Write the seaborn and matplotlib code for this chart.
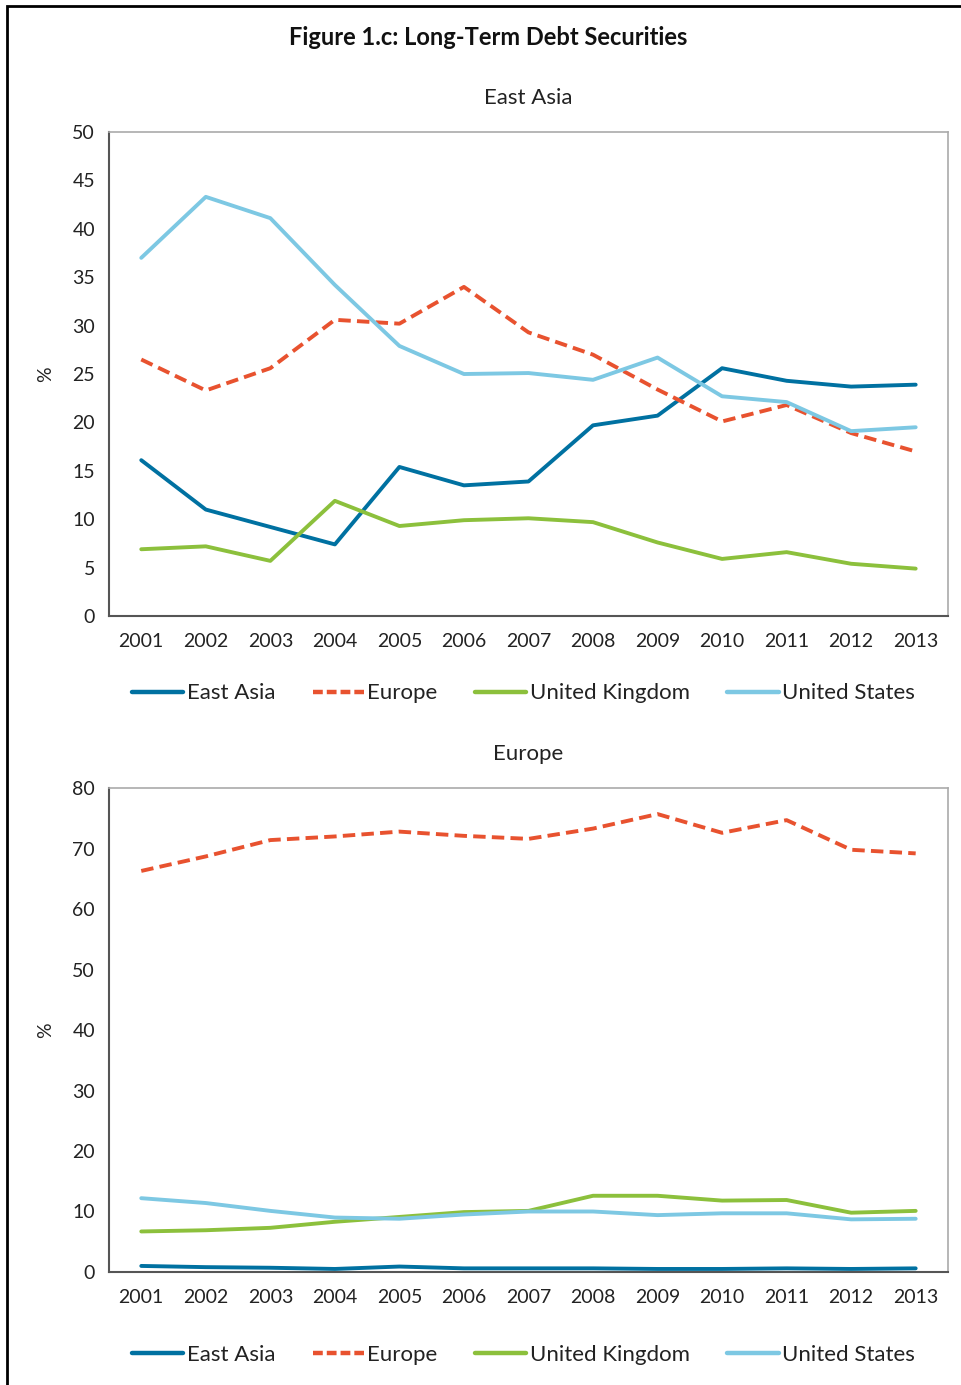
import pandas as pd
import matplotlib.pyplot as plt
import seaborn as sns
from matplotlib.lines import Line2D
from matplotlib.patches import Rectangle

years = list(range(2001, 2014))
regions = ['East Asia', 'Europe', 'United Kingdom', 'United States']

# panel 1: East Asia holdings (%)
ea_east_asia = [16.1, 11.0, 9.2, 7.4, 15.4, 13.5, 13.9, 19.7, 20.7, 25.6, 24.3, 23.7, 23.9]
ea_europe = [26.5, 23.3, 25.6, 30.6, 30.2, 34.0, 29.3, 27.0, 23.4, 20.1, 21.8, 18.9, 17.0]
ea_uk = [6.9, 7.2, 5.7, 11.9, 9.3, 9.9, 10.1, 9.7, 7.6, 5.9, 6.6, 5.4, 4.9]
ea_us = [37.0, 43.3, 41.1, 34.2, 27.9, 25.0, 25.1, 24.4, 26.7, 22.7, 22.1, 19.1, 19.5]

# panel 2: Europe holdings (%)
eu_east_asia = [1.0, 0.8, 0.7, 0.5, 0.9, 0.6, 0.6, 0.6, 0.5, 0.5, 0.6, 0.5, 0.6]
eu_europe = [66.3, 68.7, 71.4, 72.0, 72.8, 72.1, 71.6, 73.3, 75.7, 72.6, 74.7, 69.8, 69.2]
eu_uk = [6.7, 6.9, 7.3, 8.3, 9.1, 9.9, 10.1, 12.6, 12.6, 11.8, 11.9, 9.8, 10.1]
eu_us = [12.2, 11.4, 10.1, 9.0, 8.8, 9.5, 10.0, 10.0, 9.4, 9.7, 9.7, 8.7, 8.8]

colors = {'East Asia': '#0071A1', 'Europe': '#E8522F',
          'United Kingdom': '#8CC03C', 'United States': '#7DC8E3'}
dashes = {'East Asia': '', 'Europe': (3.2, 1.6),
          'United Kingdom': '', 'United States': ''}


def to_long(series):
    rows = []
    for region, vals in zip(regions, series):
        for y, v in zip(years, vals):
            rows.append({'year': y, 'value': v, 'region': region})
    return pd.DataFrame(rows)


def draw_panel(ax, df, title, ymax, ystep, legend_y):
    sns.lineplot(data=df, x='year', y='value', hue='region', style='region',
                 hue_order=regions, style_order=regions, palette=colors,
                 dashes=dashes, linewidth=2.8, legend=False, ax=ax)
    for ln in ax.get_lines():
        ln.set_solid_capstyle('round')
    ax.set_xlim(2000.5, 2013.5)
    ax.set_ylim(0, ymax)
    ax.set_yticks(range(0, ymax + 1, ystep))
    ax.set_xticks(years)
    ax.set_xticklabels([str(y) for y in years])
    ax.set_xticks([y + 0.5 for y in range(2000, 2014)], minor=True)
    ax.tick_params(axis='x', which='major', length=0, pad=12, labelsize=14, colors='#222222')
    ax.tick_params(axis='x', which='minor', length=6, width=1.2, direction='out', color='#555555')
    ax.tick_params(axis='y', length=6, width=1.2, direction='out', pad=4, labelsize=14,
                   colors='#555555', labelcolor='#222222')
    ax.set_xlabel('')
    ax.set_ylabel('%', fontsize=14, labelpad=13, color='#222222')
    ax.set_title(title, fontsize=16, pad=20, color='#222222')
    for side in ['left', 'bottom']:
        ax.spines[side].set_color('#555555')
        ax.spines[side].set_linewidth(1.5)
    for side in ['top', 'right']:
        ax.spines[side].set_visible(True)
        ax.spines[side].set_color('#aaaaaa')
        ax.spines[side].set_linewidth(1.2)

    handles = [Line2D([0], [0], color=colors[r], linewidth=3.2,
                      linestyle=(0, (2.2, 0.9)) if r == 'Europe' else '-')
               for r in regions]
    ax.legend(handles, regions, loc='center', bbox_to_anchor=(0.494, legend_y),
              ncol=4, frameon=False, fontsize=16, handlelength=2.3,
              handletextpad=0.15, columnspacing=1.7, labelcolor='#222222')


sns.set_style('white')
plt.rcParams['font.family'] = ['Lato', 'DejaVu Sans']

fig = plt.figure(figsize=(9.62, 13.85), dpi=100)
ax1 = fig.add_axes([0.1133, 0.5552, 0.8721, 0.3495])
ax2 = fig.add_axes([0.1133, 0.0816, 0.8721, 0.3494])

draw_panel(ax1, to_long([ea_east_asia, ea_europe, ea_uk, ea_us]), 'East Asia', 50, 5, -0.160)
draw_panel(ax2, to_long([eu_east_asia, eu_europe, eu_uk, eu_us]), 'Europe', 80, 10, -0.172)

fig.text(0.507, 0.973, 'Figure 1.c: Long-Term Debt Securities', ha='center', va='center',
         fontsize=17, fontweight='bold', color='#111111')

# frame around the figure (left and top edges)
fig.add_artist(Rectangle((7 / 962, -0.05), 1.2, 1.05 - 6 / 1385, transform=fig.transFigure,
                         fill=False, edgecolor='black', linewidth=2))

fig.savefig('out.png', dpi=100)
